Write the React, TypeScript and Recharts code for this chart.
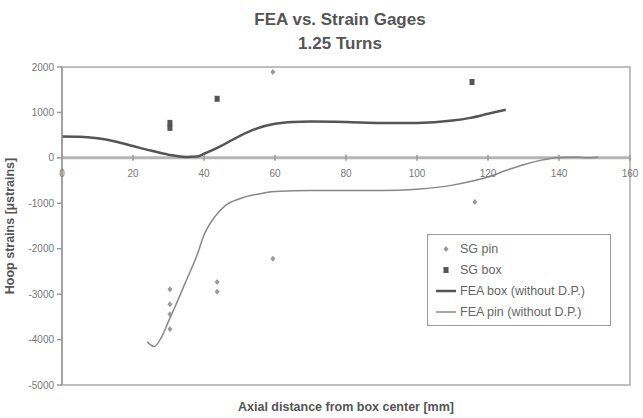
import React from 'react';
import {
  ComposedChart,
  Line,
  Scatter,
  XAxis,
  YAxis,
  ReferenceLine,
  ReferenceArea,
  ReferenceDot,
} from 'recharts';

// FEA curves: axial position [mm] and hoop strain [ustrain]
const feaBoxX = [0, 5, 10, 15, 20, 25, 30, 35, 38, 40, 45, 50, 55, 60, 65, 70, 80, 90, 100, 110, 115, 120, 125];
const feaBoxStrain = [470, 465, 430, 360, 260, 160, 70, 20, 30, 90, 270, 480, 650, 750, 790, 800, 790, 770, 770, 820, 880, 970, 1060];

const feaPinX = [24, 26, 28, 30, 32, 35, 38, 40, 43, 46, 50, 55, 60, 70, 80, 90, 100, 110, 115, 120, 125, 130, 135, 140, 145, 148, 151];
const feaPinStrain = [-4050, -4150, -3950, -3600, -3250, -2700, -2150, -1700, -1300, -1050, -900, -800, -740, -720, -720, -720, -690, -600, -520, -420, -280, -150, -50, 10, 20, 0, 20];

// strain gage readings
const sgPinX = [30.4, 30.4, 30.4, 30.4, 43.7, 43.7, 59.4, 59.4, 116.3];
const sgPinStrain = [-2890, -3220, -3440, -3770, -2730, -2950, -2220, 1890, -970];

const sgBoxX = [30.4, 30.4, 43.7, 115.5];
const sgBoxStrain = [770, 660, 1300, 1670];

const xTicks = [0, 20, 40, 60, 80, 100, 120, 140, 160];
const yTicks = [2000, 1000, 0, -1000, -2000, -3000, -4000, -5000];

const feaBox = feaBoxX.map((x, i) => ({ x, y: feaBoxStrain[i] }));
const feaPin = feaPinX.map((x, i) => ({ x, y: feaPinStrain[i] }));
const sgPin = sgPinX.map((x, i) => ({ x, y: sgPinStrain[i] }));
const sgBox = sgBoxX.map((x, i) => ({ x, y: sgBoxStrain[i] }));

const FONT = '"Liberation Sans", Arial, sans-serif';

const PinMark = (props: any) => {
  const { cx, cy } = props;
  return <path d={`M${cx},${cy - 3}L${cx + 2.5},${cy}L${cx},${cy + 3}L${cx - 2.5},${cy}Z`} fill="#9a9a9a" />;
};

const BoxMark = (props: any) => {
  const { cx, cy } = props;
  return <rect x={cx - 2.5} y={cy - 3} width={5} height={6} fill="#555" />;
};

const TickMark = (props: any) => {
  const { cx, cy } = props;
  return <line x1={cx} x2={cx} y1={cy - 3} y2={cy + 3} stroke="#999" strokeWidth={1.5} />;
};

const legendItems = [
  { name: 'SG pin', kind: 'pin' },
  { name: 'SG box', kind: 'box' },
  { name: 'FEA box (without D.P.)', kind: 'boxLine' },
  { name: 'FEA pin (without D.P.)', kind: 'pinLine' },
];

const LegendBox = () => (
  <div
    style={{
      position: 'absolute',
      top: 234,
      left: 427,
      border: '1.5px solid #999',
      background: '#fff',
      padding: '3px 8px 3px 6px',
      fontFamily: FONT,
      fontSize: 12.5,
      color: '#666',
      width: 168,
    }}
  >
    {legendItems.map((it) => (
      <div key={it.name} style={{ display: 'flex', alignItems: 'center', height: 21 }}>
        <svg width={24} height={10} style={{ marginRight: 2 }}>
          {it.kind === 'pin' && <path d="M12,2L14.5,5L12,8L9.5,5Z" fill="#9a9a9a" />}
          {it.kind === 'box' && <rect x={9.5} y={2} width={5} height={6} fill="#555" />}
          {it.kind === 'boxLine' && <line x1={2} x2={22} y1={5} y2={5} stroke="#555" strokeWidth={2.5} />}
          {it.kind === 'pinLine' && <line x1={2} x2={22} y1={5} y2={5} stroke="#888" strokeWidth={1.5} />}
        </svg>
        <span>{it.name}</span>
      </div>
    ))}
  </div>
);

export default function App() {
  document.body.style.margin = '0';
  return (
    <div style={{ position: 'relative', width: 643, height: 418, background: '#fff' }}>
      <div
        style={{
          position: 'absolute',
          top: 8,
          left: 0,
          width: 680,
          textAlign: 'center',
          fontFamily: FONT,
          fontWeight: 'bold',
          fontSize: 17,
          lineHeight: '24px',
          color: '#555',
        }}
      >
        <div>FEA vs. Strain Gages</div>
        <div>1.25 Turns</div>
      </div>
      <ComposedChart width={643} height={418} margin={{ top: 67, right: 13, bottom: 33, left: 2 }}>
        <XAxis type="number" dataKey="x" domain={[0, 160]} ticks={xTicks} hide allowDuplicatedCategory={false} />
        <YAxis
          type="number"
          dataKey="y"
          domain={[-5000, 2000]}
          ticks={yTicks}
          width={60}
          interval={0}
          tickSize={5}
          tickMargin={3}
          stroke="#999"
          strokeWidth={1.5}
          tick={{ fill: '#777', fontSize: 10, fontFamily: FONT }}
          label={{
            value: 'Hoop strains [\u00b5strains]',
            angle: -90,
            position: 'insideLeft',
            offset: 8,
            style: { textAnchor: 'middle', fill: '#555', fontSize: 12.5, fontWeight: 'bold', fontFamily: FONT },
          }}
        />
        <ReferenceArea x1={0} x2={160} y1={-5000} y2={2000} fill="none" stroke="#aaa" strokeWidth={1.5} ifOverflow="visible" />
        <ReferenceLine y={0} stroke="#b5b5b5" strokeWidth={3} />
        {xTicks.map((t) => (
          <ReferenceDot
            key={t}
            x={t}
            y={0}
            r={3}
            shape={TickMark}
            ifOverflow="visible"
            label={{ value: t, position: 'bottom', offset: 9, fill: '#777', fontSize: 10, fontFamily: FONT }}
          />
        ))}
        <Line data={feaBox} dataKey="y" type="monotone" stroke="#555" strokeWidth={2.5} dot={false} isAnimationActive={false} name="FEA box (without D.P.)" />
        <Line data={feaPin} dataKey="y" type="monotone" stroke="#888" strokeWidth={1.5} dot={false} isAnimationActive={false} name="FEA pin (without D.P.)" />
        <Scatter data={sgPin} dataKey="y" shape={PinMark} isAnimationActive={false} name="SG pin" />
        <Scatter data={sgBox} dataKey="y" shape={BoxMark} isAnimationActive={false} name="SG box" />
      </ComposedChart>
      <LegendBox />
      <div
        style={{
          position: 'absolute',
          top: 400,
          left: 62,
          width: 568,
          textAlign: 'center',
          fontFamily: FONT,
          fontWeight: 'bold',
          fontSize: 12.5,
          color: '#555',
        }}
      >
        Axial distance from box center [mm]
      </div>
    </div>
  );
}
